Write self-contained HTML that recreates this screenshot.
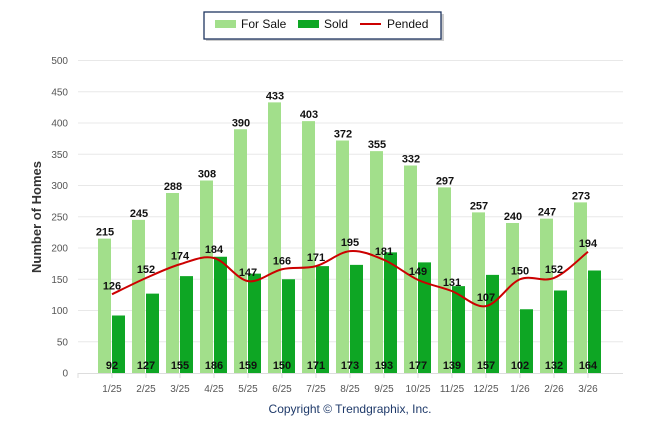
<!DOCTYPE html>
<html><head><meta charset="utf-8"><style>
body{margin:0;background:#fff;width:646px;height:434px;overflow:hidden}
svg text{font-family:"Liberation Sans",Arial,sans-serif}
</style></head><body>
<svg id="c" width="646" height="434" xmlns="http://www.w3.org/2000/svg">
<rect x="206" y="14" width="238" height="27" fill="#aaa" opacity="0.6"/>
<rect x="204" y="12" width="237" height="27" fill="#fff" stroke="#1f3560" stroke-width="1.3"/>
<rect x="215" y="20" width="21" height="8" fill="#a2df8b"/>
<text x="241" y="28" font-size="12" fill="#111">For Sale</text>
<rect x="298" y="20" width="21" height="8" fill="#0ea624"/>
<text x="324" y="28" font-size="12" fill="#111">Sold</text>
<line x1="360" y1="24" x2="381" y2="24" stroke="#cc0000" stroke-width="2"/>
<text x="387" y="28" font-size="12" fill="#111">Pended</text>
<text transform="translate(41,217) rotate(-90)" text-anchor="middle" font-size="13" font-weight="bold" fill="#333">Number of Homes</text>
<text x="350" y="413" text-anchor="middle" font-size="12" fill="#1f3a6a">Copyright © Trendgraphix, Inc.</text>
<g id="g"></g>
</svg>
<script>
var fs=[215,245,288,308,390,433,403,372,355,332,297,257,240,247,273];
var sd=[92,127,155,186,159,150,171,173,193,177,139,157,102,132,164];
var pd=[126,152,174,184,147,166,171,195,181,149,131,107,150,152,194];
var lb=["1/25","2/25","3/25","4/25","5/25","6/25","7/25","8/25","9/25","10/25","11/25","12/25","1/26","2/26","3/26"];
function Y(v){return 373-v*0.625}
var s='';
for(var v=0;v<=500;v+=50){var y=Y(v);
 if(v>0)s+='<line x1="78" y1="'+y+'" x2="623" y2="'+y+'" stroke="#e8e8e8" stroke-width="1"/>';
 s+='<text x="68" y="'+(y+3.5)+'" text-anchor="end" font-size="10" fill="#555">'+v+'</text>';}
s+='<line x1="78" y1="373.5" x2="623" y2="373.5" stroke="#ddd"/>';
for(var i=0;i<16;i++){var x=78+34*i;s+='<line x1="'+x+'" y1="373" x2="'+x+'" y2="378" stroke="#ddd"/>';}
var px=[];
for(var i=0;i<15;i++){var c=112+34*i;px.push([c,Y(pd[i])]);
 s+='<rect x="'+(c-14)+'" y="'+Y(fs[i])+'" width="13" height="'+(fs[i]*0.625)+'" fill="#a2df8b"/>';
 s+='<rect x="'+c+'" y="'+Y(sd[i])+'" width="13" height="'+(sd[i]*0.625)+'" fill="#0ea624"/>';
 s+='<text x="'+(c-7)+'" y="'+(Y(fs[i])-3)+'" text-anchor="middle" font-size="11" font-weight="bold" fill="#111">'+fs[i]+'</text>';
 s+='<text x="'+c+'" y="369" text-anchor="middle" font-size="11" font-weight="bold" fill="#111">'+sd[i]+'</text>';
 s+='<text x="'+c+'" y="392" text-anchor="middle" font-size="10" fill="#555">'+lb[i]+'</text>';}
var d='M'+px[0][0]+','+px[0][1];
for(var i=0;i<14;i++){var p0=px[Math.max(0,i-1)],p1=px[i],p2=px[i+1],p3=px[Math.min(14,i+2)];
 d+=' C'+(p1[0]+(p2[0]-p0[0])/6)+','+(p1[1]+(p2[1]-p0[1])/6)+' '+(p2[0]-(p3[0]-p1[0])/6)+','+(p2[1]-(p3[1]-p1[1])/6)+' '+p2[0]+','+p2[1];}
s+='<path d="'+d+'" fill="none" stroke="#cc0000" stroke-width="2"/>';
for(var i=0;i<15;i++)s+='<text x="'+px[i][0]+'" y="'+(px[i][1]-5)+'" text-anchor="middle" font-size="11" font-weight="bold" fill="#111">'+pd[i]+'</text>';
document.getElementById('g').innerHTML=s;
</script>
</body></html>
